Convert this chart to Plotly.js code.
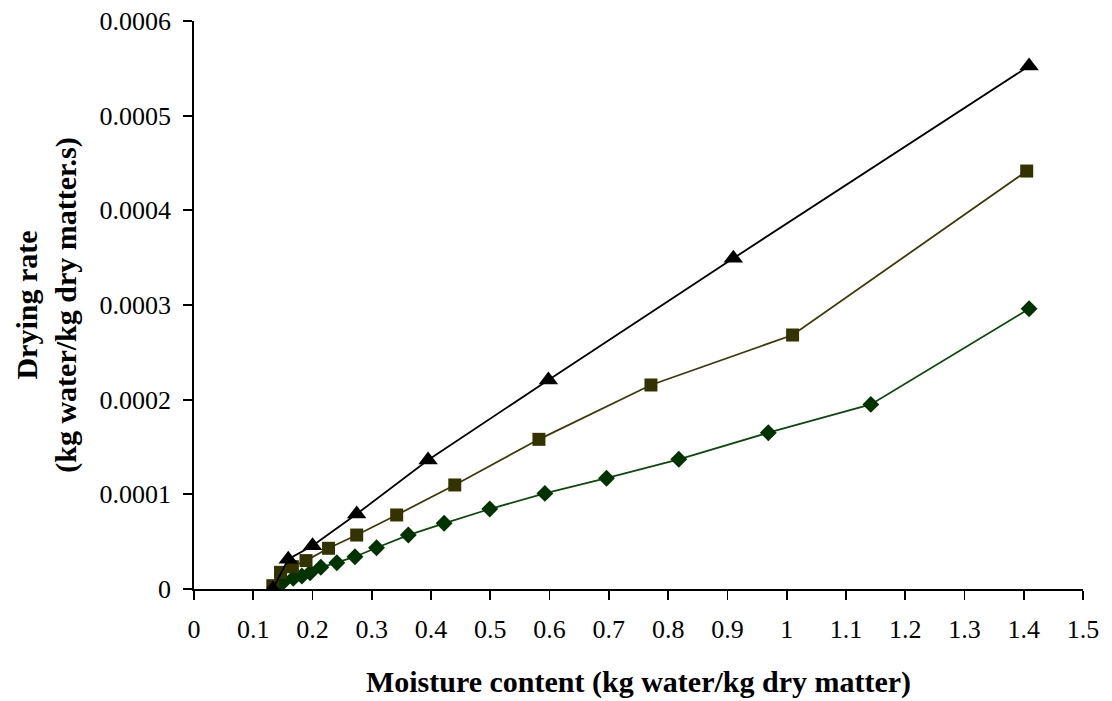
<!DOCTYPE html>
<html>
<head>
<meta charset="utf-8">
<script src="https://cdn.plot.ly/plotly-3.0.1.min.js"></script>
<style>html,body{margin:0;padding:0;background:#fff;}#chart{width:1112px;height:701px;}</style>
</head>
<body>
<div id="chart"></div>
<script>
// Series 1: triangles (black)
const triX = [0.133, 0.159, 0.200, 0.2745, 0.395, 0.598, 0.910, 1.409];
const triY = [0, 0.0000314, 0.0000457, 0.0000792, 0.0001363, 0.0002208, 0.0003493, 0.0005525];
// Series 2: squares (olive)
const sqX = [0.133, 0.146, 0.166, 0.189, 0.227, 0.2745, 0.342, 0.440, 0.582, 0.771, 1.010, 1.405];
const sqY = [0.0000035, 0.0000176, 0.0000236, 0.0000300, 0.0000430, 0.0000570, 0.0000782, 0.0001099, 0.0001581, 0.0002155, 0.0002683, 0.0004415];
// Series 3: diamonds (dark green)
const diX = [0.138, 0.151, 0.1675, 0.182, 0.196, 0.214, 0.241, 0.2716, 0.308, 0.3616, 0.422, 0.499, 0.592, 0.696, 0.818, 0.969, 1.142, 1.409];
const diY = [0.000003, 0.0000077, 0.0000113, 0.0000137, 0.0000172, 0.0000229, 0.0000278, 0.0000341, 0.0000436, 0.0000570, 0.0000694, 0.0000845, 0.0001010, 0.0001170, 0.0001370, 0.0001651, 0.0001950, 0.0002960];

const xTickVals = [0,0.1,0.2,0.3,0.4,0.5,0.6,0.7,0.8,0.9,1,1.1,1.2,1.3,1.4,1.5];
const xTickText = ["0","0.1","0.2","0.3","0.4","0.5","0.6","0.7","0.8","0.9","1","1.1","1.2","1.3","1.4","1.5"];
const yTickVals = [0,0.0001,0.0002,0.0003,0.0004,0.0005,0.0006];
const yTickText = ["0","0.0001","0.0002","0.0003","0.0004","0.0005","0.0006"];

const font = "Liberation Serif, Times New Roman, serif";

const traces = [
  {x: diX, y: diY, mode: "lines+markers", type: "scatter",
   line: {color: "#0b4a0b", width: 1.8},
   marker: {symbol: "diamond", size: 13, color: "#003300"}},
  {x: sqX, y: sqY, mode: "lines+markers", type: "scatter",
   line: {color: "#3d3a0a", width: 1.8},
   marker: {symbol: "square", size: 13, color: "#333300"}},
  {x: triX, y: triY, mode: "lines+markers", type: "scatter",
   line: {color: "#000000", width: 1.8},
   marker: {symbol: "triangle-up", size: 17, color: "#000000"}}
];

const layout = {
  width: 1112, height: 701,
  margin: {l: 194, r: 29, t: 21, b: 112},
  paper_bgcolor: "#fff", plot_bgcolor: "#fff",
  showlegend: false,
  font: {family: font, color: "#000", size: 26},
  xaxis: {
    range: [0, 1.5], tickvals: xTickVals, ticktext: xTickText,
    showgrid: false, zeroline: false, showline: true, linecolor: "#000", linewidth: 1.8,
    ticks: "outside", ticklen: 9, tickwidth: 1.8, tickcolor: "#000",
    tickfont: {family: font, size: 26}, ticklabelstandoff: 7,
    title: {text: "<b>Moisture content (kg water/kg dry matter)</b>", font: {family: font, size: 30}, standoff: 28},
    automargin: false
  },
  yaxis: {
    range: [0, 0.0006], tickvals: yTickVals, ticktext: yTickText,
    showgrid: false, zeroline: false, showline: true, linecolor: "#000", linewidth: 1.8,
    ticks: "outside", ticklen: 9, tickwidth: 1.8, tickcolor: "#000",
    tickfont: {family: font, size: 26}, ticklabelstandoff: 7,
    title: {text: "<b>Drying rate<br>(kg water/kg dry matter.s)</b>", font: {family: font, size: 30}, standoff: 14},
    automargin: false
  }
};

Plotly.newPlot("chart", traces, layout, {displayModeBar: false, staticPlot: true});
</script>
</body>
</html>
